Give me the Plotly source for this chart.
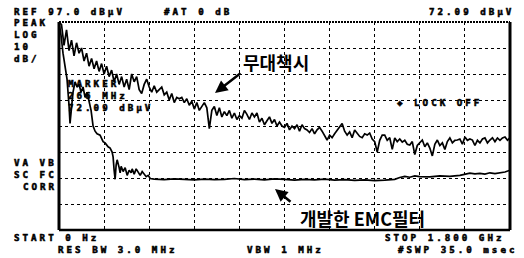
import plotly.graph_objects as go

# ---------------- data ----------------
ref_level = 97.0          # dBuV (top of screen)
db_per_div = 10
n_ydiv = 8
stop_mhz = 1800

# unfiltered trace ("무대책시"), sampled every 10 MHz
upper_freq = list(range(0, 1801, 10))
upper_db = [
    97, 96, 88, 94, 86, 90, 84, 89, 85, 87,
    82, 85, 80, 83, 79, 82, 78, 81, 77, 80,
    76, 78.5, 74, 77, 73, 76, 72, 75, 71, 77,
    74, 76, 71, 69.5, 73, 75, 72, 70, 72.5, 70,
    71, 72, 69, 70, 67, 69.5, 66, 68, 67.5, 68,
    66, 67.5, 65, 66.5, 63.5, 66, 63, 64.5, 66, 64,
    56, 63, 64.5, 61, 64, 60.5, 62.5, 61, 63, 60,
    62, 59.5, 61, 60, 63, 61.5, 59.5, 62, 60.5, 62,
    58.5, 60, 57.5, 59, 60.5, 58, 59.5, 57, 58.5, 57,
    56.5, 58, 55.5, 57, 56, 57.5, 55, 57.5, 56, 55.5,
    54.5, 56, 54, 55.5, 56.5, 55, 53, 51.6, 53.5, 52.5,
    54, 55.5, 57, 58, 55, 53.5, 54.7, 52.5, 55.5, 54,
    53, 52.5, 54, 53.5, 54.3, 52, 51, 47, 51.5, 53.5,
    53.5, 51.5, 52.5, 48, 52.4, 51, 52, 50.8, 51.5, 50,
    49.7, 51, 46, 49.5, 50.5, 51.6, 49, 50.5, 48.5, 45.5,
    50, 51.6, 49.5, 50.5, 48, 51, 52.4, 50.5, 51.5, 51.6,
    52, 50, 52.8, 51.5, 52, 51.6, 49.5, 51.5, 50.5, 52,
    52.4, 50.5, 51.6, 52.5, 51, 52.4, 51.5, 52.4, 52.8, 51.5,
    52.5,
]

# trace with developed EMC filter ("개발한 EMC필터")
lower_freq = [
    0, 8, 16, 24, 32, 40, 44, 48, 56, 64, 72, 80, 88, 96, 104, 112, 120, 128,
    136, 144, 152, 164, 176, 184, 196, 204, 212, 216, 220, 224, 228, 232, 240,
    244, 248, 256, 264, 272, 280, 288, 292, 300, 308, 316, 324, 332, 340, 348,
    356, 364, 380, 420, 460, 500, 540, 580, 620, 660, 700, 740, 780, 820, 860,
    900, 940, 980, 1020, 1060, 1100, 1140, 1180, 1220, 1260, 1300, 1340, 1360,
    1380, 1400, 1420, 1440, 1480, 1520, 1560, 1600, 1620, 1640, 1660, 1680,
    1700, 1720, 1740, 1760, 1780, 1800,
]
lower_db = [
    97, 92, 85, 80, 75, 65, 58, 62, 70, 74, 72, 73, 70, 72, 68, 70, 66, 63,
    57, 55, 54, 53.5, 51, 50.5, 49, 48.5, 47, 45, 40, 36.5, 42, 44, 41,
    39, 41.5, 39.5, 41, 38, 40, 39, 40.5, 38.5, 40.5, 39, 38, 39.5, 38.5, 37.5,
    38, 36.8, 36.6, 36.4, 36.7, 36.5, 36.3, 36.6, 36.4, 36.5, 36.8, 36.4, 36.6, 36.3, 36.7,
    36.5, 36.2, 36.5, 36.3, 36.6, 36.2, 36.4, 36.1, 36.3, 36.0, 36.2, 36.5, 37.2,
    37.6, 37.3, 37.8, 37.5, 37.4, 37.8, 37.6, 38.0, 38.6, 38.9, 38.6, 38.8,
    38.5, 39.0, 38.7, 39.1, 39.3, 40.0,
]

# screen annotations (text, left x px, center y px)
screen_texts = [
    ("REF 97.0 dBµV", 13, 12),
    ("#AT 0 dB", 163, 12),
    ("72.09 dBµV", 428, 12),
    ("PEAK", 13, 22),
    ("LOG", 13, 34),
    ("10", 13, 46),
    ("dB/", 13, 58),
    ("VA VB", 13, 162),
    ("SC FC", 13, 174),
    ("CORR", 22, 186),
    ("MARKER", 67, 83),
    ("266 MHz", 67, 95),
    ("72.09 dBµV", 67, 107),
    ("◆ LOCK OFF", 396, 103),
    ("START 0 Hz", 13, 237.5),
    ("RES BW 3.0 MHz", 57, 249.5),
    ("VBW 1 MHz", 246, 249.5),
    ("STOP 1.800 GHz", 384, 237.5),
    ("#SWP 35.0 msec", 397, 249.5),
]
korean_texts = [
    ("무대책시", 242, 62),
    ("개발한 EMC필터", 299, 218),
]

# ---------------- layout helpers ----------------
W, H = 524, 258
PL, PR, PT, PB = 59, 510, 22, 230


def px(x):
    return (x - PL) / (PR - PL)


def py(y):
    return (PB - y) / (PB - PT)


bottom_db = ref_level - db_per_div * n_ydiv

fig = go.Figure()
fig.add_trace(go.Scatter(x=upper_freq, y=upper_db, mode="lines",
                         line=dict(color="black", width=1.7), hoverinfo="skip"))
fig.add_trace(go.Scatter(x=lower_freq, y=lower_db, mode="lines",
                         line=dict(color="black", width=1.7), hoverinfo="skip"))

DOT_STYLE = "letter-spacing:3px;stroke:black;stroke-width:0.55px"
annotations = []
for t, x, y in screen_texts:
    annotations.append(dict(text=f'<span style="{DOT_STYLE}">{t}</span>',
                            x=px(x), y=py(y), xref="paper", yref="paper",
                            xanchor="left", yanchor="middle", showarrow=False,
                            font=dict(family="DejaVu Sans Mono", size=9.2,
                                      color="black", weight="bold"),
                            borderpad=0))
for t, x, y in korean_texts:
    annotations.append(dict(text=t, x=px(x), y=py(y), xref="paper", yref="paper",
                            xanchor="left", yanchor="middle", showarrow=False,
                            font=dict(family="Noto Sans CJK KR", size=18,
                                      color="black", weight="bold"),
                            borderpad=0))
# arrows (head position, tail position in px)
for hx, hy, tx, ty in [(215, 93, 242, 72), (275, 189, 292, 203)]:
    annotations.append(dict(text="", x=px(hx), y=py(hy), xref="paper", yref="paper",
                            ax=tx - hx, ay=ty - hy, showarrow=True, arrowhead=2,
                            arrowsize=1, arrowwidth=2.5, arrowcolor="black"))

shapes = [
    dict(type="line", xref="paper", yref="paper", x0=0, x1=0, y0=0, y1=1,
         line=dict(color="black", width=3)),
    dict(type="line", xref="paper", yref="paper", x0=1, x1=1, y0=0, y1=1,
         line=dict(color="black", width=3)),
    dict(type="line", xref="paper", yref="paper", x0=0, x1=1, y0=0, y1=0,
         line=dict(color="black", width=2.5)),
    dict(type="line", xref="paper", yref="paper", x0=0, x1=1, y0=1, y1=1,
         line=dict(color="black", width=2, dash="2px,1px")),
]

grid = dict(showticklabels=False, ticks="", zeroline=False, showline=False,
            showgrid=True, gridcolor="black", gridwidth=1, griddash="dot",
            fixedrange=True)
fig.update_layout(
    width=W, height=H,
    margin=dict(l=PL, r=W - PR, t=PT, b=H - PB),
    paper_bgcolor="white", plot_bgcolor="white",
    showlegend=False,
    annotations=annotations,
    shapes=shapes,
    xaxis=dict(range=[0, stop_mhz], dtick=stop_mhz / 10, tick0=0, **grid),
    yaxis=dict(range=[bottom_db, ref_level], dtick=db_per_div, tick0=bottom_db, **grid),
)

fig.write_html("out.html", config={"displayModeBar": False},
               post_script="document.body.style.margin='0';document.body.style.overflow='hidden';")
